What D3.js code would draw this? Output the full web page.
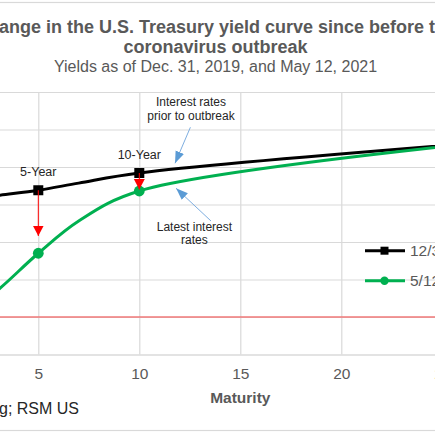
<!DOCTYPE html>
<html><head><meta charset="utf-8">
<script src="https://cdn.jsdelivr.net/npm/d3@7"></script>
<style>html,body{margin:0;padding:0;background:#fff;overflow:hidden}
text{font-family:"Liberation Sans",Arial,Helvetica,sans-serif}</style>
</head><body><svg id="c" width="435" height="435"></svg>
<script>
// ---- data ----
const maturities    = [1/12, 2/12, 0.25, 0.5, 1, 2, 3, 5, 7, 10, 30];
const yieldsDec2019 = [1.48, 1.51, 1.55, 1.60, 1.59, 1.58, 1.62, 1.69, 1.785, 1.92, 2.39];
const yieldsMay2021 = [0.01, 0.01, 0.02, 0.04, 0.05, 0.16, 0.36, 0.85, 1.28, 1.68, 2.41];
const markedMaturities = [5, 10];
const seriesNames = ["12/31/2019", "5/12/2021"];
const xTicks = [0, 5, 10, 15, 20, 25, 30];
const yTicks = [-0.5, 0, 0.5, 1, 1.5, 2, 2.5, 3];
const titleLines = ["Change in the U.S. Treasury yield curve since before the", "coronavirus outbreak"];
const subtitle = "Yields as of Dec. 31, 2019, and May 12, 2021";
const xTitle = "Maturity";
const sourceText = "Source: Bloomberg; RSM US";
const pointLabels = [{m:5, v:1.69, text:"5-Year"}, {m:10, v:1.92, text:"10-Year"}];
const redArrows = [{m:5, from:1.69, to:1.08}, {m:10, from:1.92, to:1.70}];
const blueNotes = [
  {lines:["Interest rates","prior to outbreak"], tm:12.56, tv:2.81, from:[12.53,2.53], to:[11.77,2.05]},
  {lines:["Latest interest","rates"], tm:12.73, tv:1.152, from:[13.55,1.28], to:[11.82,1.716]}
];

// ---- layout ----
const svg = d3.select("#c");
const x = d3.scaleLinear().domain([0, 30]).range([-62.7, 543.3]);
const y = d3.scaleLinear().domain([-0.5, 3]).range([354.5, 92]);
const grey = "#595959", grid = "#d9d9d9";

// chart frame
svg.append("rect").attr("x", -300).attr("y", 2.5).attr("width", 1100).attr("height", 428)
  .attr("fill", "none").attr("stroke", grid).attr("stroke-width", 1.2);

// titles
svg.selectAll("text.title").data(titleLines).join("text").attr("class","title")
  .attr("x", 215.5).attr("y", (d,i) => 33.3 + i*19.4).attr("text-anchor","middle")
  .attr("font-size", 18).attr("font-weight","bold").attr("fill", grey).text(d => d);
svg.append("text").attr("x", 215.5).attr("y", 72.3).attr("text-anchor","middle")
  .attr("font-size", 16).attr("fill", grey).text(subtitle);

// gridlines
const gx = svg.append("g").attr("transform", `translate(0,${y(-0.5)})`)
  .call(d3.axisBottom(x).tickValues(xTicks).tickSize(-(y(-0.5)-y(3))).tickFormat(""));
gx.select(".domain").remove();
gx.selectAll("line").attr("stroke", grid).attr("stroke-width", 1.2);
const gy = svg.append("g").attr("transform", `translate(${x(0)},0)`)
  .call(d3.axisLeft(y).tickValues(yTicks).tickSize(-(x(30)-x(0))).tickFormat(""));
gy.select(".domain").remove();
gy.selectAll("line").attr("stroke", grid).attr("stroke-width", 1.2);

// zero line
svg.append("line").attr("x1", x(0)).attr("x2", x(30)).attr("y1", y(0)).attr("y2", y(0))
  .attr("stroke", "#f07878").attr("stroke-width", 1.3);

// axes labels
const ax = svg.append("g").attr("transform", `translate(0,${y(-0.5)})`)
  .call(d3.axisBottom(x).tickValues(xTicks).tickSize(0).tickPadding(13.5).tickFormat(d3.format("d")));
ax.select(".domain").attr("stroke", grid).attr("stroke-width", 1.2);
ax.selectAll("text").attr("font-size", 15.5).attr("fill", grey).style("font-family",'"Liberation Sans",Arial,sans-serif');
const ay = svg.append("g").attr("transform", `translate(${x(0)},0)`)
  .call(d3.axisLeft(y).tickValues(yTicks).tickSize(0).tickPadding(8).tickFormat(d3.format(".1f")));
ay.select(".domain").remove();
ay.selectAll("text").attr("font-size", 15.5).attr("fill", grey).style("font-family",'"Liberation Sans",Arial,sans-serif');

svg.append("text").attr("x", (x(0)+x(30))/2).attr("y", 403.3).attr("text-anchor","middle")
  .attr("font-size", 15.5).attr("font-weight","bold").attr("fill", grey).text(xTitle);
svg.append("text").attr("x", 79).attr("y", 414).attr("text-anchor","end")
  .attr("font-size", 16).attr("fill", "#262626").text(sourceText);

// series
const series = [
  {name: seriesNames[0], values: yieldsDec2019, color: "#000000", marker: "square"},
  {name: seriesNames[1], values: yieldsMay2021, color: "#00b050", marker: "circle"}
];
const line = d3.line().x(d => x(d[0])).y(d => y(d[1])).curve(d3.curveCatmullRom.alpha(0.5));
series.forEach(s => {
  const pts = maturities.map((m,i) => [m, s.values[i]]);
  svg.append("path").datum(pts).attr("d", line).attr("fill","none")
    .attr("stroke", s.color).attr("stroke-width", 3).attr("stroke-linejoin","round");
  const mk = pts.filter(p => markedMaturities.includes(p[0]));
  if (s.marker === "square") {
    svg.selectAll(null).data(mk).join("rect").attr("x", d => x(d[0])-5).attr("y", d => y(d[1])-5)
      .attr("width", 10).attr("height", 10).attr("fill", s.color);
  } else {
    svg.selectAll(null).data(mk).join("circle").attr("cx", d => x(d[0])).attr("cy", d => y(d[1]))
      .attr("r", 5.4).attr("fill", s.color);
  }
});

// arrow markers
const defs = svg.append("defs");
defs.append("marker").attr("id","redHead").attr("markerUnits","userSpaceOnUse")
  .attr("markerWidth",11).attr("markerHeight",12).attr("refX",10.5).attr("refY",5.5).attr("orient","auto")
  .append("path").attr("d","M0,0 L10.5,5.5 L0,11 Z").attr("fill","#ff0000");
defs.append("marker").attr("id","blueHead").attr("markerUnits","userSpaceOnUse")
  .attr("markerWidth",13).attr("markerHeight",10).attr("refX",12).attr("refY",4.5).attr("orient","auto")
  .append("path").attr("d","M0,0 L12,4.5 L0,9 Z").attr("fill","#5b9bd5");

svg.selectAll(null).data(redArrows).join("line")
  .attr("x1", d => x(d.m)).attr("x2", d => x(d.m)).attr("y1", d => y(d.from)).attr("y2", d => y(d.to))
  .attr("stroke","#ff0000").attr("stroke-width",1).attr("marker-end","url(#redHead)");

svg.selectAll(null).data(pointLabels).join("text")
  .attr("x", d => x(d.m)).attr("y", d => y(d.v) - 14.5).attr("text-anchor","middle")
  .attr("font-size", 12.5).attr("fill", "#262626").text(d => d.text);

blueNotes.forEach(n => {
  svg.append("line").attr("x1", x(n.from[0])).attr("y1", y(n.from[1]))
    .attr("x2", x(n.to[0])).attr("y2", y(n.to[1]))
    .attr("stroke","#7eaee0").attr("stroke-width",1).attr("marker-end","url(#blueHead)");
  svg.append("text").attr("text-anchor","middle").attr("font-size",12).attr("fill","#262626")
    .selectAll("tspan").data(n.lines).join("tspan")
    .attr("x", x(n.tm)).attr("y", (d,i) => y(n.tv) + i*13.5).text(d => d);
});

// legend
const lg = svg.append("g").selectAll("g").data(series).join("g")
  .attr("transform", (d,i) => `translate(365,${250.7 + i*30})`);
lg.append("line").attr("x1",0).attr("x2",40).attr("stroke", d => d.color).attr("stroke-width",3);
lg.filter(d => d.marker === "square").append("rect").attr("x",15.5).attr("y",-4).attr("width",8).attr("height",8).attr("fill", d => d.color);
lg.filter(d => d.marker === "circle").append("circle").attr("cx",19.5).attr("r",4.2).attr("fill", d => d.color);
lg.append("text").attr("x",45).attr("y",5.5).attr("font-size",15.5).attr("fill",grey).text(d => d.name);
</script></body></html>
